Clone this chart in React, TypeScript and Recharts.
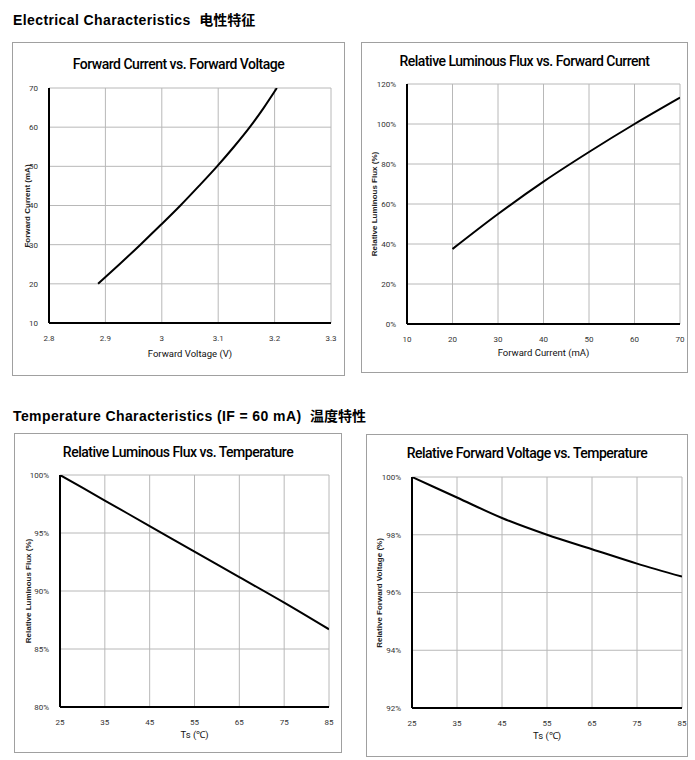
import React from "react";
import { LineChart, Line, XAxis, YAxis, CartesianGrid } from "recharts";

// Forward current vs forward voltage
const vfVoltage = [2.887, 2.925, 2.962, 2.998, 3.033, 3.066, 3.098, 3.128, 3.156, 3.181, 3.204];
const vfCurrent = [20, 25, 30, 35, 40, 45, 50, 55, 60, 65, 70];
const vfXTicks = [2.8, 2.9, 3, 3.1, 3.2, 3.3];
const vfYTicks = [10, 20, 30, 40, 50, 60, 70];

// Relative luminous flux vs forward current
const lfCurrent = [20, 30, 40, 50, 60, 70];
const lfFlux = [37.5, 55, 71.2, 86, 100, 113.2];
const lfXTicks = [10, 20, 30, 40, 50, 60, 70];
const lfYTicks = [0, 20, 40, 60, 80, 100, 120];

// Relative luminous flux vs temperature
const tempTs = [25, 35, 45, 55, 65, 75, 85];
const tfFlux = [100, 97.8, 95.6, 93.4, 91.2, 89.0, 86.7];
const tfYTicks = [80, 85, 90, 95, 100];

// Relative forward voltage vs temperature
const tvVoltage = [100, 99.29, 98.58, 98.0, 97.5, 97.0, 96.55];
const tvYTicks = [92, 94, 96, 98, 100];
const tsTicks = [25, 35, 45, 55, 65, 75, 85];

const NARROW = "Roboto, 'Liberation Sans', sans-serif";
const ARIAL = "'Liberation Sans', Arial, sans-serif";

type Rect = { x: number; y: number; w: number; h: number };

interface PanelProps {
  title: string;
  box: Rect;
  plot: Rect;
  data: { x: number; y: number }[];
  xDomain: [number, number];
  yDomain: [number, number];
  xTicks: number[];
  yTicks: number[];
  yFmt?: (v: number) => string;
  xLabel: string;
  yLabel: string;
  titleY: number;
  xLabelY: number;
  yLabelX: number;
}

function Panel(p: PanelProps) {
  const Y_W = 30;
  const X_H = 20;
  const margin = {
    top: p.plot.y - p.box.y,
    left: p.plot.x - p.box.x - Y_W,
    right: p.box.x + p.box.w - (p.plot.x + p.plot.w),
    bottom: p.box.y + p.box.h - (p.plot.y + p.plot.h) - X_H,
  };
  const tick = { fontSize: 8, fill: "#333", fontFamily: NARROW };
  return (
    <>
      <div
        style={{
          position: "absolute",
          left: p.box.x,
          top: p.box.y,
          width: p.box.w,
          height: p.box.h,
          border: "1px solid #a0a0a0",
          boxSizing: "border-box",
        }}
      />
      <div style={{ position: "absolute", left: p.box.x, top: p.box.y }}>
        <LineChart width={p.box.w} height={p.box.h} data={p.data} margin={margin}>
          <CartesianGrid stroke="#b8b8b8" strokeWidth={1} />
          <XAxis
            type="number"
            dataKey="x"
            domain={p.xDomain}
            ticks={p.xTicks}
            height={X_H}
            tickLine={false}
            axisLine={{ stroke: "#000", strokeWidth: 2 }}
            tick={tick}
            tickMargin={6}
            allowDataOverflow
          />
          <YAxis
            type="number"
            domain={p.yDomain}
            ticks={p.yTicks}
            width={Y_W}
            tickLine={false}
            axisLine={{ stroke: "#000", strokeWidth: 2 }}
            tick={tick}
            tickMargin={5}
            tickFormatter={p.yFmt}
            allowDataOverflow
          />
          <Line
            dataKey="y"
            type="monotone"
            stroke="#000"
            strokeWidth={2}
            dot={false}
            isAnimationActive={false}
          />
        </LineChart>
      </div>
      <div
        style={{
          position: "absolute",
          left: p.box.x,
          width: p.box.w,
          top: p.titleY - 10,
          height: 20,
          lineHeight: "20px",
          textAlign: "center",
          fontFamily: NARROW,
          fontSize: 14,
          fontWeight: 500,
          color: "#000",
          letterSpacing: -0.5,
        }}
      >
        {p.title}
      </div>
      <div
        style={{
          position: "absolute",
          left: p.plot.x,
          width: p.plot.w,
          top: p.xLabelY - 7,
          height: 14,
          lineHeight: "14px",
          textAlign: "center",
          fontFamily: NARROW,
          fontSize: 9.5,
          color: "#111",
        }}
      >
        {p.xLabel}
      </div>
      <div
        style={{
          position: "absolute",
          left: p.yLabelX - 100,
          top: p.plot.y + p.plot.h / 2 - 6,
          width: 200,
          height: 12,
          lineHeight: "12px",
          textAlign: "center",
          fontFamily: ARIAL,
          fontWeight: "bold",
          fontSize: 8,
          color: "#222",
          transform: "rotate(-90deg)",
        }}
      >
        {p.yLabel}
      </div>
    </>
  );
}

const zip = (xs: number[], ys: number[]) => xs.map((x, i) => ({ x, y: ys[i] }));
const pct = (v: number) => `${v}%`;

const headingStyle: React.CSSProperties = {
  position: "absolute",
  left: 13,
  fontFamily: ARIAL,
  fontWeight: "bold",
  fontSize: 14,
  letterSpacing: 0.4,
  color: "#000",
  whiteSpace: "nowrap",
};
const cjk: React.CSSProperties = { fontFamily: "'Noto Sans CJK SC', sans-serif", fontWeight: "bold", letterSpacing: 0 };

export default function App() {
  return (
    <div style={{ position: "absolute", left: 0, top: 0, width: 695, height: 760, background: "#fff" }}>
      <div style={{ ...headingStyle, top: 9 }}>
        Electrical Characteristics&nbsp; <span style={cjk}>电性特征</span>
      </div>
      <div style={{ ...headingStyle, top: 405 }}>
        Temperature Characteristics (IF = 60 mA)&nbsp; <span style={cjk}>温度特性</span>
      </div>

      <Panel
        title="Forward Current vs. Forward Voltage"
        box={{ x: 12, y: 42, w: 333, h: 334 }}
        plot={{ x: 49, y: 88, w: 282, h: 235 }}
        data={zip(vfVoltage, vfCurrent)}
        xDomain={[2.8, 3.3]}
        yDomain={[10, 70]}
        xTicks={vfXTicks}
        yTicks={vfYTicks}
        xLabel="Forward Voltage (V)"
        yLabel="Forward Current (mA)"
        titleY={64}
        xLabelY={354}
        yLabelX={28}
      />
      <Panel
        title="Relative Luminous Flux vs. Forward Current"
        box={{ x: 361, y: 42, w: 327, h: 331 }}
        plot={{ x: 407, y: 84, w: 273, h: 240 }}
        data={zip(lfCurrent, lfFlux)}
        xDomain={[10, 70]}
        yDomain={[0, 120]}
        xTicks={lfXTicks}
        yTicks={lfYTicks}
        yFmt={pct}
        xLabel="Forward Current (mA)"
        yLabel="Relative Luminous Flux (%)"
        titleY={61}
        xLabelY={353}
        yLabelX={375}
      />
      <Panel
        title="Relative Luminous Flux vs. Temperature"
        box={{ x: 14, y: 433, w: 328, h: 320 }}
        plot={{ x: 60, y: 475, w: 269, h: 232 }}
        data={zip(tempTs, tfFlux)}
        xDomain={[25, 85]}
        yDomain={[80, 100]}
        xTicks={tsTicks}
        yTicks={tfYTicks}
        yFmt={pct}
        xLabel="Ts (℃)"
        yLabel="Relative Luminous Flux (%)"
        titleY={452}
        xLabelY={735}
        yLabelX={29}
      />
      <Panel
        title="Relative Forward Voltage vs. Temperature"
        box={{ x: 366, y: 434, w: 322, h: 323 }}
        plot={{ x: 412, y: 477, w: 270, h: 231 }}
        data={zip(tempTs, tvVoltage)}
        xDomain={[25, 85]}
        yDomain={[92, 100]}
        xTicks={tsTicks}
        yTicks={tvYTicks}
        yFmt={pct}
        xLabel="Ts (℃)"
        yLabel="Relative Forward Voltage (%)"
        titleY={453}
        xLabelY={736}
        yLabelX={380}
      />
    </div>
  );
}
